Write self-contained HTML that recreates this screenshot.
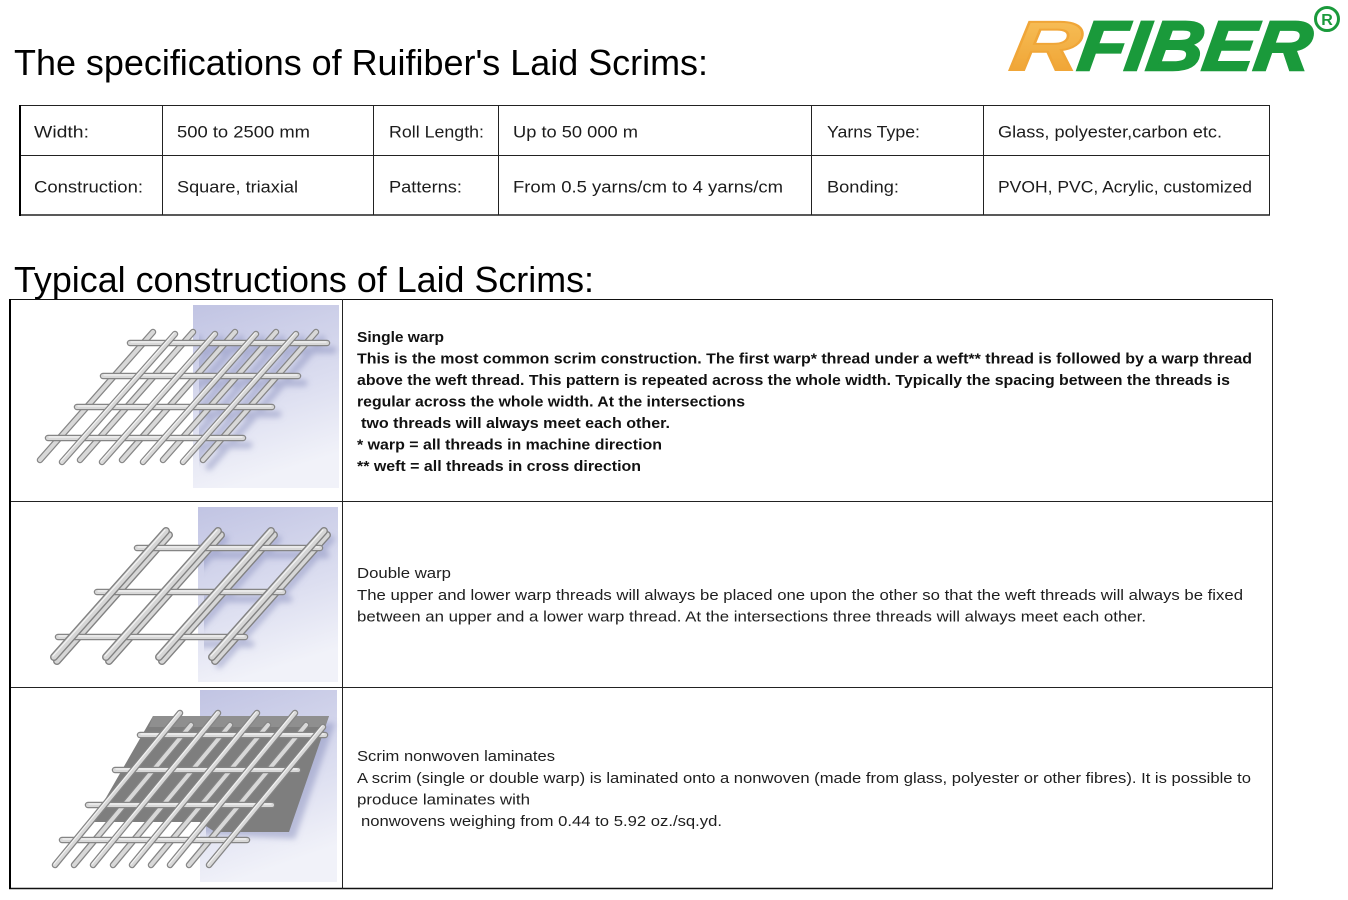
<!DOCTYPE html>
<html>
<head>
<meta charset="utf-8">
<style>
  html,body{margin:0;padding:0;background:#fff;}
  svg{display:block;}
  .f{font-family:"Liberation Sans",Arial,sans-serif;}
  .h{font-size:36px;fill:#000;}
  .t{font-size:16.5px;fill:#1c1c1c;}
  .b{font-size:14.5px;font-weight:bold;fill:#111;}
  .r{font-size:15px;fill:#1e1e1e;}
  .ro{fill:none;stroke:#858585;stroke-width:6.5;stroke-linecap:round;}
  .ri{fill:none;stroke:#d8d8d8;stroke-width:4;stroke-linecap:round;}
  .rh{fill:none;stroke:#f3f3f3;stroke-width:1.2;stroke-linecap:round;}
  .ro2{fill:none;stroke:#828282;stroke-width:8;stroke-linecap:round;}
  .ri2{fill:none;stroke:#d6d6d6;stroke-width:5.2;stroke-linecap:round;}
  .sh{fill:none;stroke:#7f86b6;stroke-width:7;stroke-linecap:round;opacity:.45;}
</style>
</head>
<body>
<svg width="1348" height="900" viewBox="0 0 1348 900" xmlns="http://www.w3.org/2000/svg">
  <defs>
    <linearGradient id="bg" x1="0" y1="0" x2="0.25" y2="1">
      <stop offset="0" stop-color="#c1c4e3"/>
      <stop offset="0.6" stop-color="#dcdef0"/>
      <stop offset="1" stop-color="#f1f2f9"/>
    </linearGradient>
    <linearGradient id="og" x1="0" y1="0" x2="0" y2="1">
      <stop offset="0" stop-color="#f8c35e"/>
      <stop offset="1" stop-color="#ee9f2e"/>
    </linearGradient>
    <filter id="bl" x="-20%" y="-20%" width="140%" height="140%">
      <feGaussianBlur stdDeviation="3"/>
    </filter>
    <clipPath id="c1"><rect x="193" y="305" width="146" height="183"/></clipPath>
    <clipPath id="c2"><rect x="198" y="507" width="140" height="175"/></clipPath>
    <clipPath id="c3"><rect x="200" y="690" width="137" height="192"/></clipPath>
  </defs>

  <rect width="1348" height="900" fill="#fff"/>

  <!-- Title -->
  <text class="f h" x="14" y="75" textLength="694" lengthAdjust="spacingAndGlyphs">The specifications of Ruifiber's Laid Scrims:</text>

  <!-- Logo -->
  <g>
    <text class="f" x="1008" y="70" font-size="70" font-weight="bold" font-style="italic" fill="url(#og)" stroke="#f0a638" stroke-width="2" textLength="70" lengthAdjust="spacingAndGlyphs" transform="skewX(-8) translate(10,0)">R</text>
    <text class="f" x="1076" y="70" font-size="70" font-weight="bold" font-style="italic" fill="#1a9a3b" stroke="#1a9a3b" stroke-width="2.5" textLength="232" lengthAdjust="spacingAndGlyphs" transform="skewX(-8) translate(10,0)">FIBER</text>
    <circle cx="1327" cy="19" r="11.5" fill="#fff" stroke="#1a9a3b" stroke-width="3"/>
    <text class="f" x="1327" y="25" font-size="16" font-weight="bold" fill="#1a9a3b" text-anchor="middle">R</text>
  </g>

  <!-- Spec table -->
  <g stroke="#222" stroke-width="1" fill="none">
    <line x1="20" y1="105.5" x2="1270" y2="105.5"/>
    <line x1="20" y1="155.5" x2="1270" y2="155.5"/>
    <line x1="20" y1="215" x2="1270" y2="215" stroke-width="1.5"/>
    <line x1="162.5" y1="105" x2="162.5" y2="215"/>
    <line x1="373.5" y1="105" x2="373.5" y2="215"/>
    <line x1="498.5" y1="105" x2="498.5" y2="215"/>
    <line x1="811.5" y1="105" x2="811.5" y2="215"/>
    <line x1="983.5" y1="105" x2="983.5" y2="215"/>
    <line x1="1269.5" y1="105" x2="1269.5" y2="215"/>
    <line x1="20" y1="105" x2="20" y2="216" stroke="#000" stroke-width="2"/>
  </g>
  <g class="f t">
    <text x="34" y="137.5" textLength="55" lengthAdjust="spacingAndGlyphs">Width:</text>
    <text x="177" y="137.5" textLength="133" lengthAdjust="spacingAndGlyphs">500 to 2500 mm</text>
    <text x="389" y="137.5" textLength="95" lengthAdjust="spacingAndGlyphs">Roll Length:</text>
    <text x="513" y="137.5" textLength="125" lengthAdjust="spacingAndGlyphs">Up to 50 000 m</text>
    <text x="827" y="137.5" textLength="93" lengthAdjust="spacingAndGlyphs">Yarns Type:</text>
    <text x="998" y="137.5" textLength="224" lengthAdjust="spacingAndGlyphs">Glass, polyester,carbon etc.</text>
    <text x="34" y="192.5" textLength="109" lengthAdjust="spacingAndGlyphs">Construction:</text>
    <text x="177" y="192.5" textLength="121" lengthAdjust="spacingAndGlyphs">Square, triaxial</text>
    <text x="389" y="192.5" textLength="73" lengthAdjust="spacingAndGlyphs">Patterns:</text>
    <text x="513" y="192.5" textLength="270" lengthAdjust="spacingAndGlyphs">From 0.5 yarns/cm to 4 yarns/cm</text>
    <text x="827" y="192.5" textLength="72" lengthAdjust="spacingAndGlyphs">Bonding:</text>
    <text x="998" y="192.5" textLength="254" lengthAdjust="spacingAndGlyphs">PVOH, PVC, Acrylic, customized</text>
  </g>

  <!-- Second title -->
  <text class="f h" x="14" y="292" textLength="580" lengthAdjust="spacingAndGlyphs">Typical constructions of Laid Scrims:</text>

  <!-- Constructions table -->
  <g stroke="#222" stroke-width="1" fill="none">
    <line x1="9" y1="299.5" x2="1273" y2="299.5" stroke="#111"/>
    <line x1="9" y1="501.5" x2="1273" y2="501.5"/>
    <line x1="9" y1="687.5" x2="1273" y2="687.5"/>
    <line x1="9" y1="888.5" x2="1273" y2="888.5" stroke="#111" stroke-width="1.5"/>
    <line x1="342.5" y1="299" x2="342.5" y2="889"/>
    <line x1="1272.5" y1="299" x2="1272.5" y2="889"/>
    <line x1="10" y1="299" x2="10" y2="889" stroke="#000" stroke-width="2"/>
  </g>

  <!-- Image 1: single warp -->
  <rect x="193" y="305" width="146" height="183" fill="url(#bg)"/>
  <g clip-path="url(#c1)" filter="url(#bl)" transform="translate(6,7)">
    <path class="sh" d="M40 460 L153 332 M80 460 L193 332 M122 460 L235 332 M163 460 L276 332 M203 460 L316 332 M62 460 L175 332 M102 460 L215 332 M143 460 L256 332 M183 460 L296 332 M130 343 L327 343 M103 376 L298 376 M77 407 L272 407 M48 438 L243 438"/>
  </g>
  <g>
    <path class="ro" d="M40 460 L153 332 M80 460 L193 332 M122 460 L235 332 M163 460 L276 332 M203 460 L316 332"/>
    <path class="ri" d="M40 460 L153 332 M80 460 L193 332 M122 460 L235 332 M163 460 L276 332 M203 460 L316 332"/>
    <path class="ro" d="M130 343 L327 343 M103 376 L298 376 M77 407 L272 407 M48 438 L243 438"/>
    <path class="ri" d="M130 343 L327 343 M103 376 L298 376 M77 407 L272 407 M48 438 L243 438"/>
    <path class="rh" d="M131 342 L326 342 M104 375 L297 375 M78 406 L271 406 M49 437 L242 437"/>
    <path class="ro" d="M62 462 L175 334 M102 462 L215 334 M143 462 L256 334 M183 462 L296 334"/>
    <path class="ri" d="M62 462 L175 334 M102 462 L215 334 M143 462 L256 334 M183 462 L296 334"/>
    <path class="rh" d="M61 461 L174 333 M101 461 L214 333 M142 461 L255 333 M182 461 L295 333"/>
  </g>

  <!-- Image 2: double warp -->
  <rect x="198" y="507" width="140" height="175" fill="url(#bg)"/>
  <g clip-path="url(#c2)" filter="url(#bl)" transform="translate(6,7)">
    <path class="sh" d="M55 658 L167 532 M107 658 L219 532 M160 658 L272 532 M213 658 L325 532 M137 548 L320 548 M97 592 L283 592 M58 637 L245 637"/>
  </g>
  <g>
    <path class="ro2" d="M57 661 L169 535 M109 661 L221 535 M162 661 L274 535 M215 661 L327 535"/>
    <path class="ri2" d="M57 661 L169 535 M109 661 L221 535 M162 661 L274 535 M215 661 L327 535"/>
    <path class="ro" d="M137 548 L320 548 M97 592 L283 592 M58 637 L245 637"/>
    <path class="ri" d="M137 548 L320 548 M97 592 L283 592 M58 637 L245 637"/>
    <path class="rh" d="M138 547 L319 547 M98 591 L282 591 M59 636 L244 636"/>
    <path class="ro2" d="M54 657 L166 531 M106 657 L218 531 M159 657 L271 531 M212 657 L324 531"/>
    <path class="ri2" d="M54 657 L166 531 M106 657 L218 531 M159 657 L271 531 M212 657 L324 531"/>
    <path class="rh" d="M53 656 L165 530 M105 656 L217 530 M158 656 L270 530 M211 656 L323 530"/>
  </g>

  <!-- Image 3: scrim nonwoven laminate -->
  <rect x="200" y="690" width="137" height="192" fill="url(#bg)"/>
  <g clip-path="url(#c3)" filter="url(#bl)" transform="translate(6,7)">
    <polygon points="153,716 329,716 289,832 92,822" fill="#7f86b6" opacity=".45"/>
  </g>
  <polygon points="153,716 329,716 289,832 215,832 200,822 92,822" fill="#7e7e7e"/>
  <polygon points="153,716 329,716 325,727 149,727" fill="#8f8f8f"/>
  <g>
    <path class="ro" d="M74 865 L191 725 M113 865 L230 725 M151 865 L268 725 M189 865 L306 725"/>
    <path class="ri" d="M74 865 L191 725 M113 865 L230 725 M151 865 L268 725 M189 865 L306 725"/>
    <path class="ro" d="M140 735 L325 735 M115 770 L298 770 M88 805 L272 805 M62 840 L247 840"/>
    <path class="ri" d="M140 735 L325 735 M115 770 L298 770 M88 805 L272 805 M62 840 L247 840"/>
    <path class="rh" d="M141 734 L324 734 M116 769 L297 769 M89 804 L271 804 M63 839 L246 839"/>
    <path class="ro" d="M55 865 L180 713 M93 865 L218 713 M132 865 L257 713 M170 865 L295 713 M209 865 L323 727"/>
    <path class="ri" d="M55 865 L180 713 M93 865 L218 713 M132 865 L257 713 M170 865 L295 713 M209 865 L323 727"/>
    <path class="rh" d="M54 864 L179 712 M92 864 L217 712 M131 864 L256 712 M169 864 L294 712 M208 864 L322 726"/>
  </g>

  <!-- Descriptions -->
  <g class="f b">
    <text x="357" y="342" textLength="87" lengthAdjust="spacingAndGlyphs">Single warp</text>
    <text x="357" y="363.5" textLength="895" lengthAdjust="spacingAndGlyphs">This is the most common scrim construction. The first warp* thread under a weft** thread is followed by a warp thread</text>
    <text x="357" y="385" textLength="873" lengthAdjust="spacingAndGlyphs">above the weft thread. This pattern is repeated across the whole width. Typically the spacing between the threads is</text>
    <text x="357" y="406.5" textLength="388" lengthAdjust="spacingAndGlyphs">regular across the whole width. At the intersections</text>
    <text x="361" y="428" textLength="309" lengthAdjust="spacingAndGlyphs">two threads will always meet each other.</text>
    <text x="357" y="449.5" textLength="305" lengthAdjust="spacingAndGlyphs">* warp = all threads in machine direction</text>
    <text x="357" y="471" textLength="284" lengthAdjust="spacingAndGlyphs">** weft = all threads in cross direction</text>
  </g>
  <g class="f r">
    <text x="357" y="578" textLength="94" lengthAdjust="spacingAndGlyphs">Double warp</text>
    <text x="357" y="600" textLength="886" lengthAdjust="spacingAndGlyphs">The upper and lower warp threads will always be placed one upon the other so that the weft threads will always be fixed</text>
    <text x="357" y="621.5" textLength="789" lengthAdjust="spacingAndGlyphs">between an upper and a lower warp thread. At the intersections three threads will always meet each other.</text>

    <text x="357" y="761" textLength="198" lengthAdjust="spacingAndGlyphs">Scrim nonwoven laminates</text>
    <text x="357" y="783" textLength="894" lengthAdjust="spacingAndGlyphs">A scrim (single or double warp) is laminated onto a nonwoven (made from glass, polyester or other fibres). It is possible to</text>
    <text x="357" y="804.5" textLength="173" lengthAdjust="spacingAndGlyphs">produce laminates with</text>
    <text x="361" y="826" textLength="361" lengthAdjust="spacingAndGlyphs">nonwovens weighing from 0.44 to 5.92 oz./sq.yd.</text>
  </g>
</svg>
</body>
</html>
